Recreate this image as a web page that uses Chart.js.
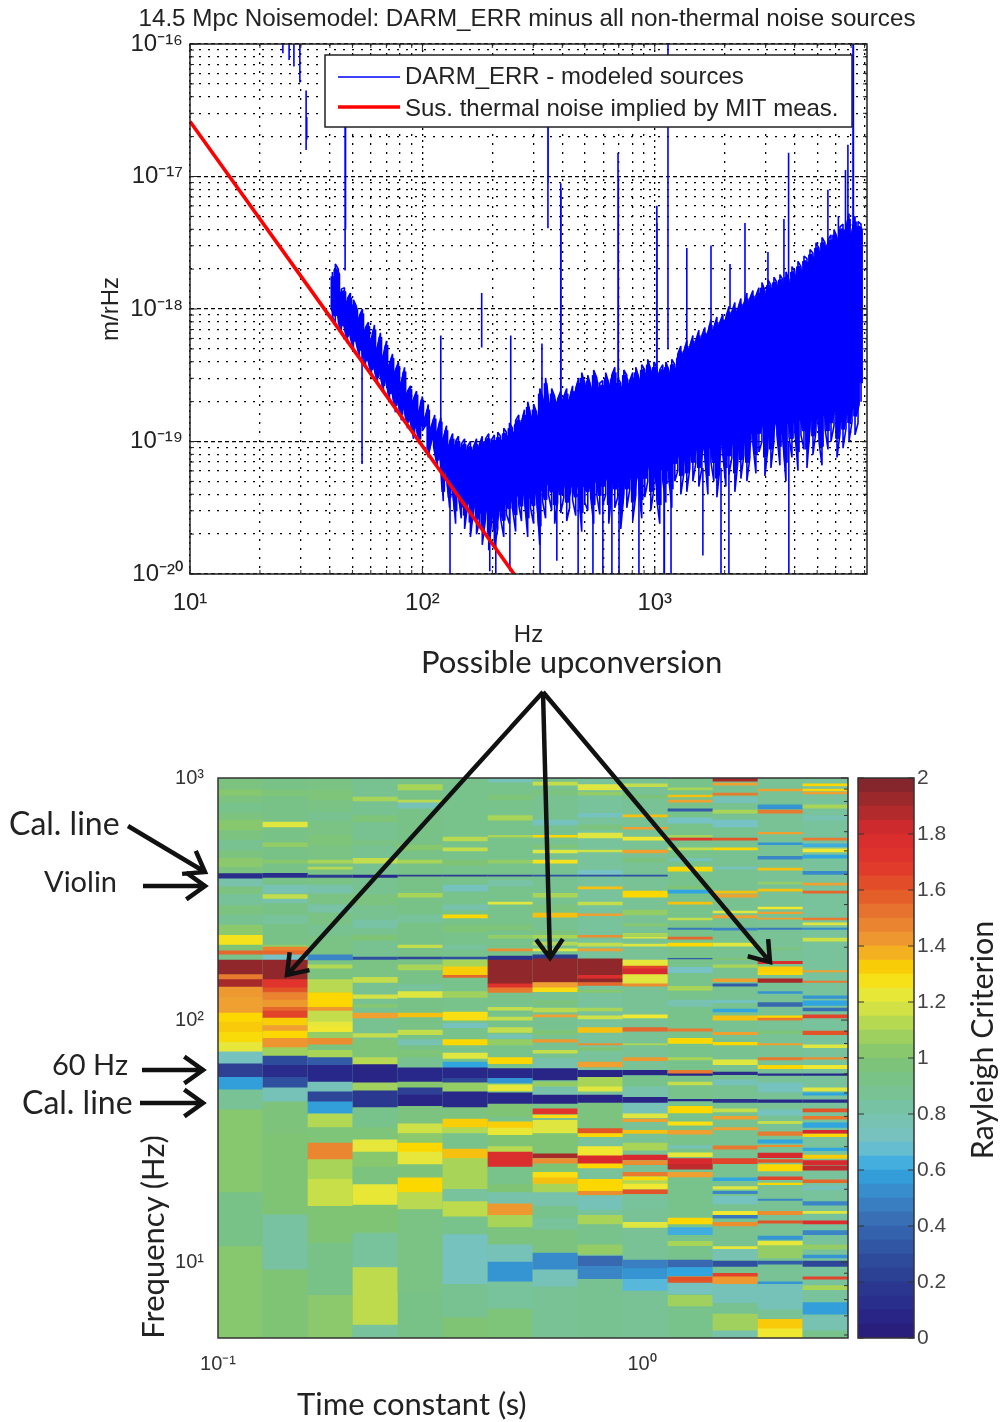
<!DOCTYPE html>
<html>
<head>
<meta charset="utf-8">
<title>Noise model and Rayleigh criterion</title>
<script src="https://cdn.jsdelivr.net/npm/chart.js@4"></script>
<style>
  html, body { margin: 0; padding: 0; background: #fff; }
  #page { position: relative; width: 1002px; height: 1422px; overflow: hidden; }
  canvas { position: absolute; }
  #heatChart { filter: blur(0.5px); }
  #arrows { position: absolute; left: 0; top: 0; }
  .note { position: absolute; font-family: Lato, sans-serif; color: #222; white-space: nowrap; line-height: 1; }
</style>
</head>
<body>
<div id="page">
  <canvas id="noiseChart" style="left:0;top:0"></canvas>
  <canvas id="heatChart" style="left:0;top:760px"></canvas>
  <canvas id="barChart" style="left:830px;top:760px"></canvas>
  <svg id="arrows" width="1002" height="1422"></svg>
  <div class="note" id="noiseTitle" style="left:527px;top:6px;font-family:'Liberation Sans';font-size:24.2px;transform:translateX(-50%)"></div>
  <div class="note" style="left:421px;top:646px;font-size:31px">Possible upconversion</div>
  <div class="note" style="left:9px;top:807px;font-size:32px">Cal. line</div>
  <div class="note" style="left:44px;top:866px;font-size:29px">Violin</div>
  <div class="note" style="left:52px;top:1049px;font-size:29px">60 Hz</div>
  <div class="note" style="left:22px;top:1086px;font-size:32px">Cal. line</div>
  <div class="note" style="left:297px;top:1388px;font-size:31px">Time constant (s)</div>
  <div class="note" style="left:152px;top:1237px;font-size:31px;transform:translate(-50%,-50%) rotate(-90deg)">Frequency (Hz)</div>
  <div class="note" style="left:981px;top:1040px;font-size:30.4px;transform:translate(-50%,-50%) rotate(-90deg)">Rayleigh Criterion</div>
</div>
<script>
// top plot, DARM_ERR band: frequency (Hz), log10 of upper and lower edge (m/rHz)
const darmFreq = [
  41,42.2,43.5,44.8,46.2,47.6,49,50.5,52,53.6,
  55.2,56.9,58.6,60.4,62.2,64.1,66,68,70.1,72.2,
  74.4,76.6,78.9,81.3,83.8,86.3,88.9,91.6,94.4,97.2,
  100,103,106,109.5,113,116,120,123,127,131,
  135,139,143,147,152,156,161,166,171,176,
  181,187,193,198,204,211,217,224,230,237,
  244,252,260,267,275,284,292,301,310,320,
  329,339,349,360,371,382,394,406,418,430,
  443,457,471,485,500,515,530,546,563,580,
  597,615,634,653,673,693,714,736,758,781,
  804,829,854,879,906,933,962,991,1021,1051,
  1083,1116,1150,1184,1220,1257,1295,1334,1374,1416,
  1459,1503,1548,1595,1643,1693,1744,1796,1851,1906,
  1964,2023,2085,2148,2212,2279,2348,2419,2492,2567,
  2645,2725,2807,2892,2979,3069,3162,3257,3356,3457,
  3562,3669,3780,3894,4012,4133,4258,4387,4519,4656,
  4796,4941,5090,5244,5402,5566,5734,5907,6085,6269,
  6459,6654,6855,7062,7275,7495,7721];
const darmHi = [
  -17.72,-17.66,-17.70,-17.85,-17.84,-17.92,-17.88,-17.93,-17.98,-18.05,
  -18.0,-18.14,-18.1,-18.24,-18.12,-18.30,-18.18,-18.36,-18.24,-18.42,
  -18.34,-18.46,-18.40,-18.56,-18.44,-18.62,-18.58,-18.68,-18.62,-18.78,
  -18.66,-18.84,-18.72,-18.90,-18.80,-18.94,-18.82,-18.98,-18.88,-19.0,
  -18.94,-19.0,-18.96,-19.02,-18.98,-19.04,-19.0,-19.04,-18.98,-19.02,
  -18.96,-18.98,-18.94,-18.99,-18.95,-18.93,-18.96,-18.90,-18.93,-18.86,
  -18.90,-18.84,-18.80,-18.86,-18.76,-18.70,-18.80,-18.72,-18.78,-18.60,
  -18.66,-18.52,-18.72,-18.60,-18.66,-18.68,-18.62,-18.66,-18.60,-18.68,
  -18.58,-18.60,-18.52,-18.48,-18.56,-18.50,-18.58,-18.46,-18.52,-18.56,
  -18.54,-18.48,-18.56,-18.50,-18.44,-18.52,-18.56,-18.46,-18.50,-18.54,
  -18.48,-18.44,-18.52,-18.42,-18.46,-18.38,-18.46,-18.40,-18.44,-18.46,
  -18.42,-18.40,-18.46,-18.38,-18.42,-18.34,-18.28,-18.32,-18.24,-18.28,
  -18.20,-18.24,-18.16,-18.20,-18.14,-18.18,-18.08,-18.14,-18.06,-18.10,
  -18.04,-18.07,-17.98,-18.02,-17.95,-18.0,-17.92,-17.96,-17.88,-17.92,
  -17.86,-17.90,-17.84,-17.80,-17.86,-17.78,-17.82,-17.76,-17.80,-17.74,
  -17.78,-17.72,-17.78,-17.68,-17.72,-17.64,-17.68,-17.60,-17.62,-17.55,
  -17.58,-17.50,-17.54,-17.46,-17.50,-17.48,-17.44,-17.40,-17.46,-17.38,
  -17.36,-17.40,-17.28,-17.42,-17.30,-17.34,-17.36];
const darmLo = [
  -18.05,-18.12,-18.10,-18.18,-18.14,-18.26,-18.22,-18.30,-18.26,-18.36,
  -18.34,-18.44,-18.40,-18.50,-18.46,-18.56,-18.50,-18.62,-18.56,-18.68,
  -18.64,-18.78,-18.72,-18.84,-18.76,-18.90,-18.84,-18.98,-18.90,-19.02,
  -18.92,-18.88,-19.12,-18.98,-19.08,-19.18,-19.12,-19.45,-19.24,-19.5,
  -19.35,-19.62,-19.4,-19.58,-19.66,-19.5,-19.72,-19.52,-19.7,-19.6,
  -19.78,-19.58,-19.82,-19.62,-19.8,-19.66,-19.58,-19.72,-19.55,-19.62,
  -19.5,-19.68,-19.48,-19.6,-19.44,-19.72,-19.5,-19.62,-19.4,-19.78,
  -19.45,-19.58,-19.4,-19.52,-19.62,-19.46,-19.54,-19.42,-19.6,-19.5,
  -19.44,-19.56,-19.4,-19.68,-19.46,-19.52,-19.42,-19.62,-19.4,-19.55,
  -19.48,-19.4,-19.62,-19.38,-19.5,-19.42,-19.66,-19.4,-19.5,-19.36,
  -19.6,-19.4,-19.34,-19.58,-19.42,-19.3,-19.52,-19.36,-19.44,-19.62,
  -19.3,-19.46,-19.28,-19.5,-19.3,-19.22,-19.4,-19.24,-19.38,-19.2,
  -19.3,-19.16,-19.34,-19.2,-19.12,-19.4,-19.15,-19.3,-19.42,-19.2,
  -19.1,-19.34,-19.25,-19.12,-19.38,-19.15,-19.28,-19.1,-19.3,-19.12,
  -19.02,-19.24,-19.08,-19.0,-19.26,-19.05,-19.2,-19.0,-18.95,-19.18,
  -19.0,-19.3,-18.96,-19.12,-18.92,-19.22,-18.95,-19.06,-19.2,-18.9,
  -19.1,-18.92,-19.0,-19.18,-18.9,-19.06,-19.0,-18.88,-19.12,-18.94,
  -19.05,-18.9,-19.0,-18.85,-18.95,-18.86,-18.7];

// thin lines that stick out of the band
const spikeFreq = [25.1,26.7,28,29.7,31.6,31.8,46.5,46.7,55,120,180,240,327,347,347.6,394,395,695,697,1021,1023,1140,1374,1746,2108,2445,3070,3597,3767,5560,6170,6620,6780,7130,7160,
  131.5,195,207,238,321,379,468,542,598,654,702,855,1096,1100,1175,1611,1928,2085,3776];
const spikeHi = [-16,-16,-16,-16,-16.35,-16.55,-16.1,-16.1,-18.2,-18.2,-17.88,-18.2,-18.26,-16.2,-16.2,-17.05,-17.1,-16.82,-17.0,-17.22,-17.35,-16,-17.54,-17.52,-17.66,-17.35,-17.57,-17.32,-16.82,-17.1,-17.3,-16.95,-16.76,-16,-16,
  -19.3,-19.4,-19.4,-19.4,-19.4,-19.4,-19.4,-19.4,-19.3,-19.3,-19.3,-19.3,-19.2,-19.2,-19.2,-19.2,-19.2,-19.2,-19.0];
const spikeLo = [-16.07,-16.12,-16.17,-16.29,-16.8,-16.72,-17.71,-17.4,-19.17,-18.9,-18.29,-18.9,-18.9,-17.39,-17.05,-18.7,-18.7,-18.6,-18.6,-18.6,-18.6,-18.3,-18.3,-18.2,-18,-18,-17.9,-17.8,-17.8,-17.6,-17.5,-17.5,-17.5,-17.4,-17.4,
  -20,-19.98,-20,-19.98,-20,-19.9,-20,-20,-20,-20,-20,-20,-20,-20,-20,-19.86,-20,-20,-20];

// red line
const thermalFreq = [10,30,100,248];
const thermalAmp = [2.6e-17,1.77e-18,9.25e-20,1e-20];

const noiseLabels = ['DARM_ERR - modeled sources','Sus. thermal noise implied by MIT meas.'];
const noiseTitle = '14.5 Mpc Noisemodel: DARM_ERR minus all non-thermal noise sources';
const noiseXTicks = [10,20,30,40,50,60,70,80,90,100,200,300,400,500,600,700,800,900,1000,2000,3000,4000,5000,6000,7000,8000];
const noiseYTicks = [1e-20,2e-20,3e-20,4e-20,5e-20,6e-20,7e-20,8e-20,9e-20,1e-19,2e-19,3e-19,4e-19,5e-19,6e-19,7e-19,8e-19,9e-19,1e-18,2e-18,3e-18,4e-18,5e-18,6e-18,7e-18,8e-18,9e-18,1e-17,2e-17,3e-17,4e-17,5e-17,6e-17,7e-17,8e-17,9e-17,1e-16];

// heat map, one list per time constant: [upper freq, lower freq, Rayleigh value], later rows paint over earlier ones
const timeConstants = ['0.11','0.14','0.18','0.23','0.30','0.38','0.49','0.62','0.79','1.0','1.3','1.6','2.1','2.7'];
const col01 = [[1000,4.86,.95],[892,850,1.02],[787,722,.9],[670,610,1.02],[554,504,.88],[466,430,1.03],[403,383,.12],[383,357,.8],[330,299,.86],[272,247,.88],[247,235,1.03],[235,224,1.03],[224,204,1.27],[204,193,1.0],[193,186,1.55],[186,177,.9],[177,154,1.95],[154,147,1.5],[147,137,1.9],[137,124,1.42],[124,107,1.4],[107,98,1.3],[98,89,1.33],[89,81,1.29],[81,74,1.22],[74,66,.72],[66,58,.22],[58,51.5,.58],[51.5,42.6,.87],[42.6,19.4,1.02],[19.4,11.6,.92],[11.6,4.86,1.02]];
const col02 = [[1000,4.86,.92],[892,845,.98],[658,628,1.2],[540,520,1.05],[458,445,1.02],[404,388,.13],[361,334,.78],[330,316,1.15],[316,305,.8],[270,250,.85],[204,196,1.05],[200,193,1.48],[193,186,1.55],[186,177,.7],[177,147,1.95],[147,136,1.7],[136,130,1.6],[130,121,1.48],[121,113,1.42],[113,109,1.55],[109,102,1.65],[102,95,1.32],[95,90,1.4],[90,84,1.3],[84,77,1.43],[77,71,1.08],[71,65,.28],[65,58,.12],[58,52.5,.3],[52.5,46,.75],[46,34,.97],[34,15.7,1.0],[15.7,9.3,.83],[9.3,4.86,1.0]];
const col03 = [[1000,4.86,.93],[892,811,.98],[722,670,.88],[580,528,.98],[458,445,1.1],[429,420,1.12],[397,388,.2],[361,334,.8],[299,279,.82],[247,224,.88],[186,177,.5],[169,163,1.12],[163,147,.95],[147,131,1.13],[130,113,1.3],[113,109,1.42],[109,98,1.15],[98,94,1.22],[94,89,1.25],[89,84,1.05],[84,79,1.45],[79,75,.95],[75,70,1.1],[70,65,.35],[65,55.5,.1],[55.5,50.5,.75],[50.5,46,.25],[46,41,.58],[41,36,1.12],[36,31,.98],[31,26.5,1.47],[26.5,22,1.1],[22,17,1.16],[17,12,1.0],[12,7.3,.92],[7.3,4.86,1.03]];
const col04 = [[1000,4.86,.88],[835,805,1.1],[700,660,.98],[554,525,.93],[466,445,1.15],[397,388,.1],[330,299,.95],[259,240,.82],[224,214,1.0],[182,177,.3],[177,150,.93],[150,143,1.15],[127,123,1.18],[116,113,1.02],[107,102,1.4],[88,85,1.15],[83,75,.98],[75,70,.98],[70,65.5,1.13],[65.5,55,.08],[55,51,1.08],[51,43.5,.18],[43.5,36,.9],[36,32,.98],[32,28.5,1.22],[28.5,24.7,1.02],[24.7,20.9,.95],[20.9,17.2,1.23],[17.2,13.2,1.0],[13.2,9.5,.85],[9.5,5.5,1.14],[5.5,4.86,.85]];
const col05 = [[1000,4.86,.92],[940,892,1.1],[811,790,1.13],[790,750,.75],[528,504,1.02],[458,445,1.1],[397,393,.2],[334,322,1.1],[272,254,.85],[204,199,1.15],[182,179,.25],[169,161,1.1],[140,133,.85],[131,124,1.2],[107,103,1.35],[91,87,1.15],[83,79,.78],[75,70,.98],[70,63.5,.88],[63.5,55.5,.1],[55.5,52.5,1.02],[52.5,49,.22],[49,44,.08],[44,37.3,.95],[37.3,34,1.17],[34,31,1.03],[31,28.5,1.3],[28.5,25.3,1.22],[25.3,22.3,.97],[22.3,19.4,1.3],[19.4,16.5,1.13],[16.5,7.6,.93]];
const col06 = [[1000,4.86,.9],[570,550,1.13],[515,500,1.15],[458,436,1.0],[397,393,.2],[361,341,.72],[299,285,.8],[272,264,1.3],[247,231,.98],[204,195,.85],[182,179,.3],[177,166,1.1],[166,153,1.32],[153,150,1.55],[131,124,1.08],[108,100,1.28],[97,93,.72],[83,79,1.3],[73,69.5,1.2],[67,63.5,.6],[63.5,57.5,.1],[57.5,55,.25],[55,50.5,1.05],[50.5,43.5,.1],[43.5,39,.95],[39,36,1.32],[36,34,1.12],[34,29.3,.9],[29.3,26.8,1.35],[26.8,20,1.1],[20,17.8,.85],[17.8,15.4,1.14],[15.4,13,.9],[13,8.1,.72],[8.1,5.9,.88],[5.9,4.86,1.0]];
const col07 = [[1000,4.86,.9],[1000,962,.75],[850,811,.98],[700,670,1.1],[580,570,1.1],[458,445,1.05],[397,393,.22],[379,357,.82],[307,301,1.2],[247,235,.98],[224,218,1.05],[197,193,1.45],[184,177,.15],[177,141,1.95],[141,136,1.72],[136,130,1.5],[113,110,1.15],[103,100,1.15],[93,89,1.15],[87,84,.75],[83,79,1.05],[70,66,1.3],[63,57.5,.1],[57.5,55,.55],[54,51,1.22],[50,45,.1],[45,40,1.0],[38,35.8,1.32],[35.8,33.4,1.23],[33.4,30,1.0],[30,28.5,1.13],[28.5,24.7,1.77],[24.7,20.9,.9],[20.9,19.4,1.0],[19.4,17.4,.8],[17.4,15.6,1.42],[15.6,13.9,1.1],[13.9,11.8,.95],[11.8,10,.75],[10,8.3,.55],[8.3,6.4,.85],[6.4,4.86,.98]];
const col08 = [[1000,4.86,.88],[962,935,1.15],[892,850,.95],[670,640,.72],[580,570,1.3],[528,515,.98],[504,490,1.2],[458,445,1.27],[397,393,.3],[334,322,1.1],[299,279,.95],[277,266,1.35],[235,224,.95],[224,218,1.1],[210,204,1.12],[197,193,1.2],[186,179,.2],[179,143,1.95],[143,136,1.4],[136,131,1.28],[121,115,.95],[112,108,1.13],[105,103,1.4],[91,87,.98],[83,81,1.42],[75,73,1.15],[69.5,63,.8],[63,56.6,.08],[55.5,53,1.05],[53,49,.8],[49,45,.08],[45,43,.9],[43,41,1.7],[40.5,39.5,1.28],[38.5,34,1.2],[34,28,1.0],[28,27,1.9],[26.8,25.5,1.45],[25.5,23.5,1.0],[23.5,22.3,1.28],[22.3,21,1.35],[21,19.4,1.1],[19.4,17,.8],[17,15.2,.9],[15.2,13.6,.85],[13.6,10.9,.95],[10.9,9.3,.52],[9.3,7.9,.75],[7.9,4.86,.87]];
const col09 = [[1000,4.86,.85],[940,892,1.2],[875,850,1.05],[715,690,.72],[640,610,.95],[592,565,1.2],[504,495,1.17],[416,400,.7],[397,393,.3],[355,348,1.35],[307,299,1.15],[275,270,1.4],[224,220,1.45],[208,202,1.15],[197,193,1.4],[179,153,1.95],[153,148,1.75],[148,143,1.95],[143,139,1.55],[133,130,1.02],[112,109,1.1],[104,101,1.17],[93,89,1.35],[80,79,1.45],[77,75,1.0],[67,64,1.4],[62,58,.08],[58,53,1.1],[53,50.5,1.2],[50.5,49,.85],[49,45.4,.08],[45.4,35.6,.95],[35.6,34,1.6],[34,33,1.3],[30,27.5,1.25],[27.5,25.5,1.8],[25.5,24.5,1.3],[22,21,1.3],[21,19.6,1.3],[19.6,19,1.45],[18.7,16.5,.75],[15.6,14.3,1.1],[14.3,11.8,.9],[11.8,10.8,1.05],[10.6,9.6,.4],[9.6,8.5,.5],[8.5,4.86,.88]];
const col10 = [[1000,4.86,.87],[945,920,1.15],[850,825,.97],[705,690,1.35],[625,615,1.4],[570,554,1.25],[504,490,1.4],[466,450,.95],[397,393,.3],[341,322,1.3],[285,272,1.05],[250,245,1.02],[228,222,1.1],[220,218,1.2],[206,202,1.2],[177,167,1.22],[167,163,1.65],[163,154,1.8],[154,141,1.2],[141,138,1.45],[105,102,1.25],[93,90,1.55],[80,79,1.1],[70,68,1.42],[62,59,.08],[59,53,.9],[53,48,.8],[48,45.4,.08],[45.4,41,.75],[41,39.5,1.2],[39,38,1.4],[35,34,1.35],[31,29,1.1],[27.7,26.5,1.8],[26.3,25.3,1.45],[23.5,22.7,1.5],[22.5,21.7,1.3],[21.7,21,1.12],[21,20,1.25],[19.9,19.2,1.6],[18.7,16.5,.85],[14.6,13.9,1.2],[10.2,9.4,.48],[9.4,8.5,.55],[8.5,7.6,.65],[7.6,4.86,.87]];
const col11 = [[1000,4.86,.9],[910,892,1.1],[850,835,1.35],[811,795,1.4],[745,730,.35],[685,650,.7],[580,570,1.1],[565,554,1.7],[515,504,1.15],[466,454,.75],[429,412,1.3],[357,350,1.0],[344,334,.6],[307,301,1.35],[264,259,1.15],[240,237,.45],[220,216,1.55],[208,202,1.3],[180,179,.35],[165,157,.7],[138,133,1.1],[121,114,.78],[92,90,1.5],[84,80,1.3],[70,68.5,1.1],[62,60,1.5],[60,59,.08],[55.5,54,1.15],[47,46.4,.12],[44,41.3,1.3],[38,36.8,1.28],[35,33.8,1.4],[30.3,29.6,.75],[28.3,27.3,1.22],[26.8,25.3,1.8],[25.3,24.2,1.85],[23.5,22.5,1.4],[15.2,14.4,1.3],[13.9,13,.62],[12.2,11.7,1.1],[10.2,9.5,.4],[9.5,8.8,.6],[8.7,8.2,1.6],[8.2,7.4,.72],[7.3,6.6,1.08]];
const col12 = [[1000,4.86,.88],[1000,970,1.9],[952,935,1.4],[867,850,1.5],[835,790,.75],[737,715,1.1],[670,628,.7],[565,554,1.6],[515,504,1.3],[430,420,.75],[341,334,1.35],[330,322,1.4],[282,277,1.2],[270,264,1.4],[240,235,.5],[208,202,1.2],[180,177,1.0],[169,165,1.1],[148,144,1.4],[141,138,.35],[121,118,.72],[111,108,.6],[104,100,1.35],[89,87,1.4],[81,79,1.3],[68.5,65.5,1.2],[61,59.5,.12],[56.6,54,.75],[47,45.7,.15],[43,41.7,1.15],[40,39,1.4],[36,35.2,1.4],[30.2,29.3,1.5],[26.8,25.5,1.65],[22.3,21.7,.6],[20.5,20,1.2],[19.6,19.2,.5],[18.7,17.4,.72],[16.2,15.7,1.25],[15.6,15.2,.45],[14.6,14.1,1.45],[11.6,11.3,1.22],[11.3,10.2,.78],[10.1,9.6,.3],[9,8.7,1.65],[8.7,8.1,1.42],[8.1,6.8,.75],[6.1,5.2,1.08],[5.2,4.86,.8]];
const col13 = [[1000,4.86,.87],[900,885,1.4],[775,745,.55],[737,715,1.5],[597,587,1.4],[540,530,.55],[475,462,.5],[425,416,1.35],[372,365,1.05],[348,341,1.35],[293,288,1.25],[279,275,1.4],[264,261,1.4],[240,237,.45],[199,195,.95],[175,171,1.75],[166,158,1.32],[158,154,1.3],[148,143,1.9],[131,129,.55],[118,114,.4],[104,102,1.3],[102,100,1.5],[90,88,1.0],[80,79,1.4],[70,68.5,1.5],[65,63,1.3],[60,59,.12],[55,50.5,.72],[46.8,45.7,.1],[42.6,40.5,.72],[38.2,37.3,1.15],[34.5,33.4,1.5],[32,31,.6],[30.4,30,1.45],[28.2,27,1.8],[26.5,25.8,1.6],[25.3,23.8,1.3],[22.5,21.9,1.65],[21.2,20.9,1.3],[18.2,18,.5],[16.2,15.7,1.45],[14.8,14.5,1.6],[12.8,12.4,.55],[12.2,11.7,1.22],[11.7,10.4,1.05],[10.1,9.8,.35],[8.3,8.1,.55],[8.1,6.4,.75],[5.8,5.3,1.33],[5.3,4.86,1.25]];
const col14 = [[1000,4.86,.85],[945,928,1.3],[900,885,1.3],[875,860,1.4],[775,750,1.1],[700,670,.78],[565,554,1.5],[535,520,.62],[510,495,1.25],[480,466,.6],[412,400,.52],[368,361,1.4],[341,334,1.55],[264,259,1.5],[252,247,1.2],[240,237,.52],[218,212,1.17],[160,158,1.4],[145,143,1.5],[126,123,.55],[120,115,.6],[112,109,.42],[105,102,1.65],[90,87,1.6],[79,77,1.2],[70,69,1.45],[65,63,1.25],[60,59,.1],[52.5,51,1.2],[50,49,.6],[46.8,45.7,.12],[43,41.7,1.6],[40,39,1.5],[37.6,36,.6],[35,34,1.8],[33.8,33,1.3],[29.6,28.9,.6],[27.7,26.8,1.32],[26.3,25.3,1.8],[25,24,1.85],[21.9,21.3,1.55],[20.7,19.9,.75],[17.8,17.2,.5],[16.2,15.9,1.2],[14.8,14.4,1.75],[13.5,13,.5],[11.8,11.3,1.05],[10.7,10.4,.55],[10.1,9.6,.25],[8.7,8.5,1.65],[8,7.7,1.1],[6.8,6.1,.58],[6,5.2,.78],[5.2,4.86,.9]];
const heatCols = [col01,col02,col03,col04,col05,col06,col07,col08,col09,col10,col11,col12,col13,col14];

const heatXTicks = [0.1,1];
const heatYTicks = [5,6,7,8,9,10,20,30,40,50,60,70,80,90,100,200,300,400,500,600,700,800,900,1000];
const barLevels = [0,.05,.1,.15,.2,.25,.3,.35,.4,.45,.5,.55,.6,.65,.7,.75,.8,.85,.9,.95,1,1.05,1.1,1.15,1.2,1.25,1.3,1.35,1.4,1.45,1.5,1.55,1.6,1.65,1.7,1.75,1.8,1.85,1.9,1.95,2];
const barTicks = [0,.2,.4,.6,.8,1,1.2,1.4,1.6,1.8,2];

// colour map
const mapStops = [0,.1,.2,.3,.4,.5,.6,.65,.7,.8,.9,1,1.1,1.2,1.25,1.3,1.35,1.4,1.5,1.6,1.7,1.8,1.9,2];
const mapRgb = [[42,26,120],[40,40,138],[44,60,144],[47,80,159],[55,104,176],[58,133,197],[48,165,223],[88,184,220],[118,194,196],[120,194,172],[120,194,140],[127,196,116],[168,212,88],[223,230,64],[240,232,48],[253,216,0],[245,192,16],[240,160,48],[232,122,48],[226,84,40],[224,52,44],[216,42,46],[166,42,42],[122,36,44]];

function rayleighColor(v) {
  let i = 0;
  while (i < mapStops.length - 2 && v > mapStops[i + 1]) i++;
  const t = Math.min(1, Math.max(0, (v - mapStops[i]) / (mapStops[i + 1] - mapStops[i])));
  const c = mapRgb[i].map((a, k) => Math.round(a + (mapRgb[i + 1][k] - a) * t));
  return `rgb(${c[0]},${c[1]},${c[2]})`;
}

function powerLabel(value) {
  const sup = { '-': '⁻', 0: '⁰', 1: '¹', 2: '²', 3: '³', 4: '⁴', 5: '⁵', 6: '⁶', 7: '⁷', 8: '⁸', 9: '⁹' };
  const e = Math.log10(value);
  if (Math.abs(e - Math.round(e)) > 1e-6) return '';
  return '10' + String(Math.round(e)).split('').map(c => sup[c]).join('');
}

function isDecade(value) {
  const e = Math.log10(value);
  return Math.abs(e - Math.round(e)) < 1e-6;
}

// matlab style frame with inward ticks
const framePlugin = {
  id: 'frame',
  afterDatasetsDraw(chart, args, opts) {
    const { ctx, chartArea: a } = chart;
    ctx.save();
    ctx.strokeStyle = opts.color || '#222';
    ctx.lineWidth = 1.5;
    ctx.strokeRect(a.left, a.top, a.right - a.left, a.bottom - a.top);
    ctx.lineWidth = 1;
    ctx.beginPath();
    (opts.xAxis ? chart.scales[opts.xAxis].ticks : []).forEach(t => {
      const px = chart.scales[opts.xAxis].getPixelForValue(t.value);
      const len = isDecade(t.value) ? 7 : 4;
      ctx.moveTo(px, a.bottom); ctx.lineTo(px, a.bottom - len);
      ctx.moveTo(px, a.top); ctx.lineTo(px, a.top + len);
    });
    chart.scales.y.ticks.forEach(t => {
      const py = chart.scales.y.getPixelForValue(t.value);
      const len = opts.tickLen || (isDecade(t.value) ? 7 : 4);
      if (!opts.rightOnly) { ctx.moveTo(a.left, py); ctx.lineTo(a.left + len, py); }
      ctx.moveTo(a.right, py); ctx.lineTo(a.right - len, py);
    });
    ctx.stroke();
    ctx.restore();
  }
};

const legendPlugin = {
  id: 'boxLegend',
  afterDatasetsDraw(chart) {
    const { ctx } = chart;
    ctx.save();
    ctx.fillStyle = '#fff';
    ctx.strokeStyle = '#222';
    ctx.lineWidth = 1.5;
    ctx.fillRect(325, 55, 527, 72);
    ctx.strokeRect(325, 55, 527, 72);
    ctx.font = '24px "Liberation Sans"';
    ctx.textBaseline = 'middle';
    ctx.fillStyle = '#222';
    [['#0000ff', 1.5, 77], ['#ff0000', 3.6, 107]].forEach((row, i) => {
      ctx.strokeStyle = row[0];
      ctx.lineWidth = row[1];
      ctx.beginPath();
      ctx.moveTo(338, row[2]);
      ctx.lineTo(400, row[2]);
      ctx.stroke();
      ctx.fillText(noiseLabels[i], 405, row[2] + (i ? 2 : 0));
    });
    ctx.restore();
  }
};

// band is an up-down zigzag: thin for the jagged edges, thick over the solid middle
const bandEdge = [];
const bandCore = [];
const bandLen = Math.min(darmFreq.length, darmHi.length, darmLo.length);
for (let i = 0; i < bandLen; i++) {
  const f = darmFreq[i], span = darmHi[i] - darmLo[i];
  const hi = { x: f, y: Math.pow(10, darmHi[i]) };
  const lo = { x: f, y: Math.pow(10, darmLo[i]) };
  const coreHi = { x: f, y: Math.pow(10, darmHi[i] - Math.min(0.04, span * 0.1)) };
  const coreLo = { x: f, y: Math.pow(10, darmLo[i] + Math.min(0.14, span * 0.15)) };
  if (i % 2) { bandEdge.push(lo, hi); bandCore.push(coreLo, coreHi); }
  else { bandEdge.push(hi, lo); bandCore.push(coreHi, coreLo); }
}
const spikePoints = [];
spikeFreq.forEach((f, i) => {
  spikePoints.push({ x: f, y: Math.pow(10, spikeHi[i]) }, { x: f, y: Math.pow(10, spikeLo[i]) }, { x: f, y: null });
});

function sizeCanvas(id, w, h) {
  const c = document.getElementById(id);
  c.width = w; c.height = h;
  c.style.width = w + 'px'; c.style.height = h + 'px';
  return c;
}

document.getElementById('noiseTitle').textContent = noiseTitle;

new Chart(sizeCanvas('noiseChart', 1002, 650), {
  type: 'line',
  data: {
    datasets: [
      { label: noiseLabels[1], data: thermalFreq.map((f, i) => ({ x: f, y: thermalAmp[i] })), borderColor: '#ff0000', borderWidth: 3.6, pointRadius: 0, tension: 0 },
      { label: noiseLabels[0], data: spikePoints, borderColor: '#0000ff', borderWidth: 1.6, pointRadius: 0, tension: 0, spanGaps: false },
      { label: noiseLabels[0], data: bandCore, borderColor: '#0000ff', borderWidth: 3.8, borderJoinStyle: 'bevel', pointRadius: 0, tension: 0 },
      { label: noiseLabels[0], data: bandEdge, borderColor: '#0000ff', borderWidth: 1.6, borderJoinStyle: 'bevel', pointRadius: 0, tension: 0 }
    ]
  },
  plugins: [framePlugin, legendPlugin],
  options: {
    responsive: false,
    animation: false,
    layout: { padding: { left: 97, right: 135, top: 44, bottom: 0 } },
    plugins: {
      legend: { display: false },
      tooltip: { enabled: false },
      frame: { xAxis: 'x' }
    },
    scales: {
      x: {
        type: 'logarithmic', min: 10, max: 8192,
        afterBuildTicks: s => { s.ticks = noiseXTicks.map(value => ({ value })); },
        afterFit: s => { s.height = 76; },
        grid: { color: '#000', lineWidth: 1.3, drawTicks: false },
        border: { display: false, dash: ctx => (ctx.tick && isDecade(ctx.tick.value) ? [2, 4] : [2, 7]) },
        ticks: { callback: v => powerLabel(v), autoSkip: false, maxRotation: 0, color: '#222', padding: 15, font: { family: 'Liberation Sans', size: 24 } },
        title: { display: true, text: 'Hz', color: '#222', font: { family: 'Liberation Sans', size: 24 }, padding: 0 }
      },
      y: {
        type: 'logarithmic', min: 1e-20, max: 1e-16,
        afterBuildTicks: s => { s.ticks = noiseYTicks.map(value => ({ value })); },
        afterFit: s => { s.width = 93; },
        grid: { color: '#000', lineWidth: 1.3, drawTicks: false },
        border: { display: false, dash: ctx => (ctx.tick && isDecade(ctx.tick.value) ? [4, 3] : [2, 7]) },
        ticks: { callback: v => powerLabel(v), autoSkip: false, color: '#222', padding: 7, font: { family: 'Liberation Sans', size: 24 } },
        title: { display: true, text: 'm/rHz', color: '#222', font: { family: 'Liberation Sans', size: 24 }, padding: 0 }
      }
    }
  }
});

// every row of the heat map becomes one floating bar on a hidden category axis
const heatSets = [];
heatCols.forEach((col, c) => {
  col.forEach(row => {
    heatSets.push({
      data: [{ x: timeConstants[c], y: [row[1], row[0]] }],
      backgroundColor: rayleighColor(row[2]),
      borderWidth: 0,
      grouped: false,
      barPercentage: 1,
      categoryPercentage: 1,
      xAxisID: 'cols',
      yAxisID: 'y',
      order: -heatSets.length
    });
  });
});

new Chart(sizeCanvas('heatChart', 1002, 652), {
  type: 'bar',
  data: { labels: timeConstants, datasets: heatSets },
  plugins: [framePlugin],
  options: {
    responsive: false,
    animation: false,
    layout: { padding: { left: 0, right: 154, top: 18, bottom: 0 } },
    plugins: { legend: { display: false }, tooltip: { enabled: false }, frame: { rightOnly: true, color: '#333' } },
    scales: {
      cols: { type: 'category', display: false, offset: true },
      x: {
        type: 'logarithmic', min: 0.1, max: 3.06, position: 'bottom',
        afterBuildTicks: s => { s.ticks = heatXTicks.map(value => ({ value })); },
        afterFit: s => { s.height = 74; },
        grid: { display: false },
        border: { display: false },
        ticks: { callback: v => powerLabel(v), autoSkip: false, maxRotation: 0, color: '#333', padding: 6, font: { family: 'Liberation Sans', size: 20 } }
      },
      y: {
        type: 'logarithmic', min: 4.86, max: 1000,
        afterBuildTicks: s => { s.ticks = heatYTicks.map(value => ({ value })); },
        afterFit: s => { s.width = 218; },
        grid: { display: false },
        border: { display: false },
        ticks: { callback: v => powerLabel(v), autoSkip: false, color: '#333', padding: 6, font: { family: 'Liberation Sans', size: 20 } }
      }
    }
  }
});

const barSets = barLevels.slice(0, -1).map((lo, i) => ({
  data: [{ x: 'bar', y: [lo, barLevels[i + 1]] }],
  backgroundColor: rayleighColor(lo + 0.025),
  borderWidth: 0,
  grouped: false,
  barPercentage: 1,
  categoryPercentage: 1
}));

new Chart(sizeCanvas('barChart', 172, 600), {
  type: 'bar',
  data: { labels: ['bar'], datasets: barSets },
  plugins: [framePlugin],
  options: {
    responsive: false,
    animation: false,
    layout: { padding: { left: 28, right: 0, top: 18, bottom: 22 } },
    plugins: { legend: { display: false }, tooltip: { enabled: false }, frame: { tickLen: 6, color: '#333' } },
    scales: {
      x: { type: 'category', display: false, offset: true },
      y: {
        type: 'linear', position: 'right', min: 0, max: 2,
        afterBuildTicks: s => { s.ticks = barTicks.map(value => ({ value })); },
        afterFit: s => { s.width = 88; },
        grid: { display: false, drawTicks: false },
        border: { display: false },
        ticks: { callback: v => String(v), autoSkip: false, color: '#444', padding: 3, font: { family: 'Liberation Sans', size: 21 } }
      }
    }
  }
});

// annotation arrows
const arrowList = [
  [128, 826, 205, 872], [143, 886, 205, 886], [142, 1070, 203, 1070], [140, 1103, 203, 1103],
  [543, 692, 287, 975], [543, 692, 550, 958], [543, 692, 770, 962]
];
let svg = '';
arrowList.forEach(a => {
  const ang = Math.atan2(a[3] - a[1], a[2] - a[0]);
  const hl = 23, spread = 0.62;
  const p1 = [a[2] - hl * Math.cos(ang - spread), a[3] - hl * Math.sin(ang - spread)];
  const p2 = [a[2] - hl * Math.cos(ang + spread), a[3] - hl * Math.sin(ang + spread)];
  svg += `<path d="M${a[0]} ${a[1]}L${a[2]} ${a[3]}M${p1[0]} ${p1[1]}L${a[2]} ${a[3]}L${p2[0]} ${p2[1]}" fill="none" stroke="#111" stroke-width="4.5" stroke-linejoin="miter"/>`;
});
document.getElementById('arrows').innerHTML = svg;
</script>
</body>
</html>
